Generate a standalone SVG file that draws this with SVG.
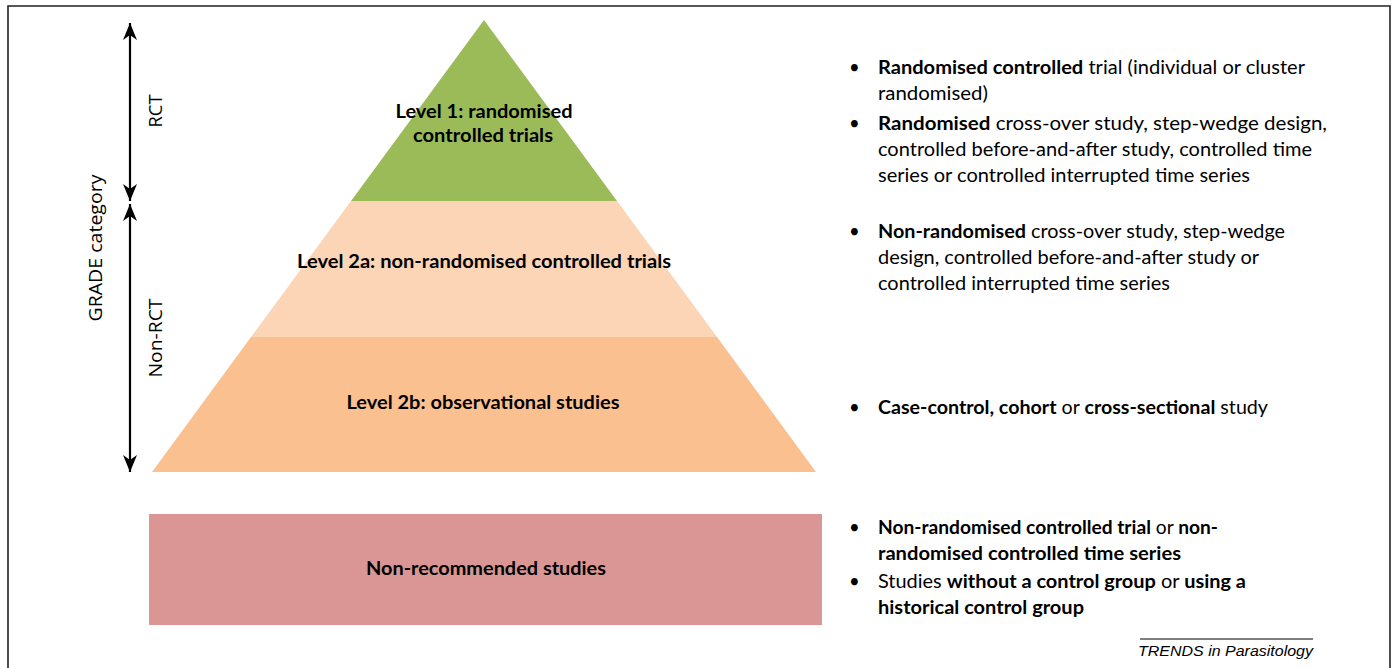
<svg xmlns="http://www.w3.org/2000/svg" width="1396" height="668" viewBox="0 0 1396 668">
<style>
.lbl{font-family:"Lato","Liberation Sans",sans-serif;font-weight:bold;font-size:18px;fill:#000;text-anchor:middle}
.side{font-family:"Open Sans","DejaVu Sans",sans-serif;font-size:18px;fill:#000;text-anchor:middle}
.txt{font-family:"Lato","Liberation Sans",sans-serif;font-size:18.5px;fill:#000}
.b{font-weight:bold}
.arr{stroke:#000;stroke-width:2.2;fill:none}
</style>
<defs>
<marker id="ah" viewBox="-18 -8 19 16" refX="0" refY="0" markerWidth="19" markerHeight="16" markerUnits="userSpaceOnUse" orient="auto-start-reverse">
<path d="M0,0 L-17,-7 L-12,0 L-17,7 Z" fill="#000"/>
</marker>
</defs>
<rect width="1396" height="668" fill="#fff"/>
<path d="M8,670 V6 H1390 V670" fill="none" stroke="#222" stroke-width="1.6"/>

<g id="connectors">
<line class="arr" x1="130" y1="23" x2="130" y2="201" marker-start="url(#ah)" marker-end="url(#ah)"/>
<line class="arr" x1="130" y1="204" x2="130" y2="472" marker-start="url(#ah)" marker-end="url(#ah)"/>
</g>

<g id="axis-labels">
<text class="side" transform="translate(102,248) rotate(-90)" textLength="147" lengthAdjust="spacingAndGlyphs">GRADE category</text>
<text class="side" transform="translate(162,111) rotate(-90)" textLength="33" lengthAdjust="spacingAndGlyphs">RCT</text>
<text class="side" transform="translate(162,338) rotate(-90)" textLength="79" lengthAdjust="spacingAndGlyphs">Non-RCT</text>
</g>

<g id="level1">
<polygon points="484,20 617,201 351,201" fill="#9BBB59"/>
<text class="lbl" x="484" y="118" textLength="177" lengthAdjust="spacingAndGlyphs">Level 1: randomised</text>
<text class="lbl" x="483" y="142" textLength="140" lengthAdjust="spacingAndGlyphs">controlled trials</text>
</g>

<g id="level2a">
<polygon points="351,201 617,201 717,337 251,337" fill="#FBD5B5"/>
<text class="lbl" x="484" y="268" textLength="374" lengthAdjust="spacingAndGlyphs">Level 2a: non-randomised controlled trials</text>
</g>

<g id="level2b">
<polygon points="251,337 717,337 816,472 152,472" fill="#FAC090"/>
<text class="lbl" x="483" y="409" textLength="273" lengthAdjust="spacingAndGlyphs">Level 2b: observational studies</text>
</g>

<g id="nonrec">
<rect x="149" y="514" width="673" height="111" fill="#D99694"/>
<text class="lbl" x="486" y="575" textLength="240" lengthAdjust="spacingAndGlyphs">Non-recommended studies</text>
</g>

<g id="desc-level1">
<text class="txt" x="849" y="74">•</text>
<text class="txt" x="878" y="74" textLength="427" lengthAdjust="spacingAndGlyphs"><tspan class="b">Randomised controlled</tspan> trial (individual or cluster</text>
<text class="txt" x="878" y="100" textLength="110" lengthAdjust="spacingAndGlyphs">randomised)</text>
<text class="txt" x="849" y="130">•</text>
<text class="txt" x="878" y="130" textLength="449" lengthAdjust="spacingAndGlyphs"><tspan class="b">Randomised</tspan> cross-over study, step-wedge design,</text>
<text class="txt" x="878" y="156" textLength="434" lengthAdjust="spacingAndGlyphs">controlled before-and-after study, controlled time</text>
<text class="txt" x="878" y="182" textLength="372" lengthAdjust="spacingAndGlyphs">series or controlled interrupted time series</text>
</g>

<g id="desc-level2a">
<text class="txt" x="849" y="238">•</text>
<text class="txt" x="878" y="238" textLength="407" lengthAdjust="spacingAndGlyphs"><tspan class="b">Non-randomised</tspan> cross-over study, step-wedge</text>
<text class="txt" x="878" y="264" textLength="381" lengthAdjust="spacingAndGlyphs">design, controlled before-and-after study or</text>
<text class="txt" x="878" y="290" textLength="292" lengthAdjust="spacingAndGlyphs">controlled interrupted time series</text>
</g>

<g id="desc-level2b">
<text class="txt" x="849" y="414">•</text>
<text class="txt" x="878" y="414" textLength="390" lengthAdjust="spacingAndGlyphs"><tspan class="b">Case-control, cohort</tspan> or <tspan class="b">cross-sectional</tspan> study</text>
</g>

<g id="desc-nonrec">
<text class="txt" x="849" y="534">•</text>
<text class="txt" x="878" y="534" textLength="340" lengthAdjust="spacingAndGlyphs"><tspan class="b">Non-randomised controlled trial</tspan> or <tspan class="b">non-</tspan></text>
<text class="txt b" x="878" y="560" textLength="303" lengthAdjust="spacingAndGlyphs">randomised controlled time series</text>
<text class="txt" x="849" y="588">•</text>
<text class="txt" x="878" y="588" textLength="368" lengthAdjust="spacingAndGlyphs">Studies <tspan class="b">without a control group</tspan> or <tspan class="b">using a</tspan></text>
<text class="txt b" x="878" y="614" textLength="206" lengthAdjust="spacingAndGlyphs">historical control group</text>
</g>

<g id="footer">
<line x1="1140" y1="639" x2="1313" y2="639" stroke="#000" stroke-width="1"/>
<text x="1138" y="656" font-family="Liberation Sans, sans-serif" font-style="italic" font-size="15.5px" textLength="175" lengthAdjust="spacingAndGlyphs">TRENDS in Parasitology</text>
</g>
</svg>
